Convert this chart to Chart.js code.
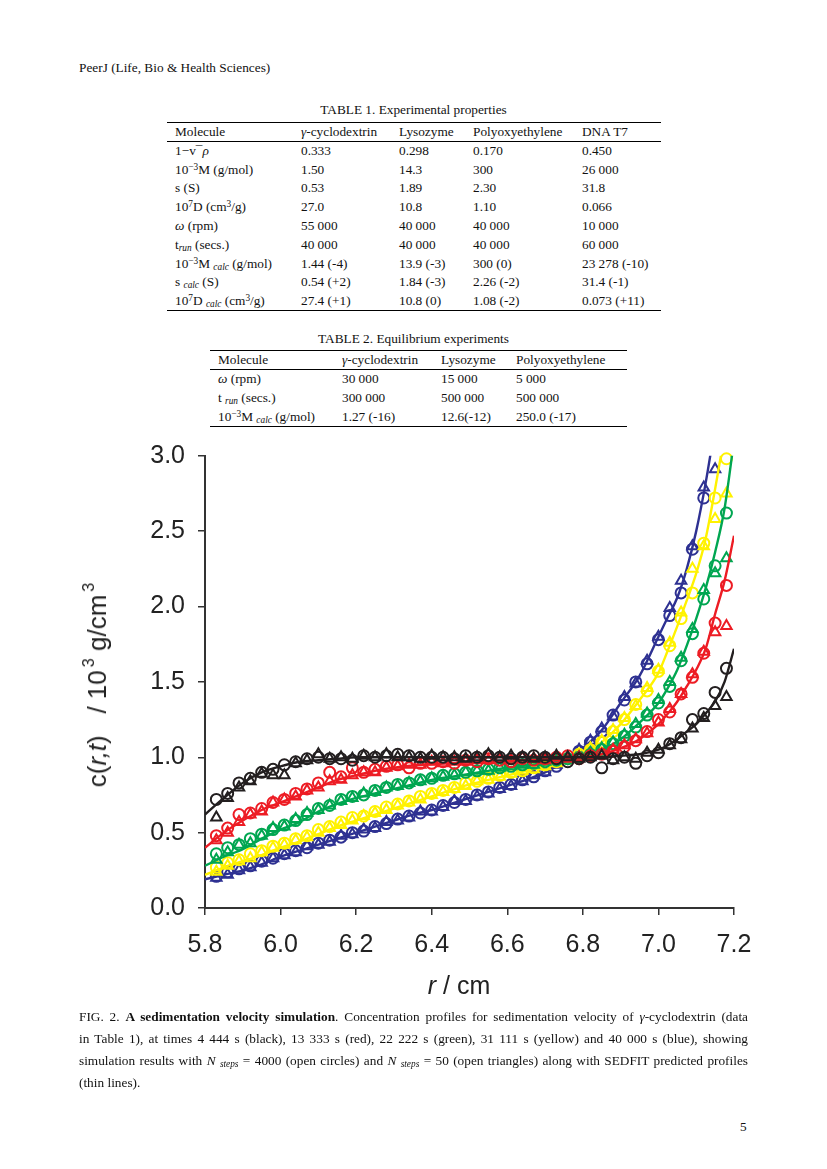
<!DOCTYPE html>
<html>
<head>
<meta charset="utf-8">
<script src="https://cdn.jsdelivr.net/npm/chart.js@4.4.1/dist/chart.umd.min.js"></script>
<style>
  body { margin: 0; background: #fff; }
  #page { position: relative; width: 827px; height: 1169px; overflow: hidden;
          font-family: 'Liberation Serif', 'Times New Roman', serif; color: #111; font-size: 13.3px; }
  .abs { position: absolute; white-space: nowrap; line-height: 16px; }
  table { position: absolute; border-collapse: collapse; font-size: 13.3px; }
  td { padding: 0; white-space: nowrap; vertical-align: middle; line-height: 14px; }
  td:first-child { padding-left: 8px; }
  sup { font-size: 0.7em; line-height: 0; vertical-align: 0.45em; }
  sub { font-size: 0.7em; line-height: 0; vertical-align: -0.2em; }
  .top { border-top: 1.2px solid #000; }
  .mid { border-bottom: 0.8px solid #000; }
  .bot { border-bottom: 1.2px solid #000; }
  .cap { position: absolute; left: 79px; width: 669px; line-height: 22px; white-space: nowrap;
         text-align: justify; text-align-last: justify; }
  .axt { position: absolute; font-family: 'Liberation Sans', Arial, sans-serif; font-size: 25px;
         color: #222; white-space: nowrap; line-height: 30px; }
  .axt sup { font-size: 0.62em; vertical-align: 0.75em; margin-left: 3px; }
  #chartBox { position: absolute; left: 0; top: 429px; width: 827px; height: 581px; }
</style>
</head>
<body>
<div id="page">
  <div class="abs" style="left:79px;top:60px;">PeerJ (Life, Bio &amp; Health Sciences)</div>

  <div class="abs" style="left:0;width:827px;text-align:center;top:102px;">TABLE 1. Experimental properties</div>
  <table style="left:167px;top:122px;width:494px;">
    <colgroup><col style="width:134px"><col style="width:98px"><col style="width:74px"><col style="width:109px"><col style="width:79px"></colgroup>
    <tr class="top mid" style="height:19px"><td>Molecule</td><td><i>γ</i>-cyclodextrin</td><td>Lysozyme</td><td>Polyoxyethylene</td><td>DNA T7</td></tr>
    <tr style="height:18.8px"><td>1−v¯<i>ρ</i></td><td>0.333</td><td>0.298</td><td>0.170</td><td>0.450</td></tr>
    <tr style="height:18.8px"><td>10<sup>−3</sup>M (g/mol)</td><td>1.50</td><td>14.3</td><td>300</td><td>26 000</td></tr>
    <tr style="height:18.8px"><td>s (S)</td><td>0.53</td><td>1.89</td><td>2.30</td><td>31.8</td></tr>
    <tr style="height:18.8px"><td>10<sup>7</sup>D (cm<sup>3</sup>/g)</td><td>27.0</td><td>10.8</td><td>1.10</td><td>0.066</td></tr>
    <tr style="height:18.8px"><td><i>ω</i> (rpm)</td><td>55 000</td><td>40 000</td><td>40 000</td><td>10 000</td></tr>
    <tr style="height:18.8px"><td>t<sub><i>run</i></sub> (secs.)</td><td>40 000</td><td>40 000</td><td>40 000</td><td>60 000</td></tr>
    <tr style="height:18.8px"><td>10<sup>−3</sup>M <sub><i>calc</i></sub> (g/mol)</td><td>1.44 (-4)</td><td>13.9 (-3)</td><td>300 (0)</td><td>23 278 (-10)</td></tr>
    <tr style="height:18.8px"><td>s <sub><i>calc</i></sub> (S)</td><td>0.54 (+2)</td><td>1.84 (-3)</td><td>2.26 (-2)</td><td>31.4 (-1)</td></tr>
    <tr class="bot" style="height:18.8px"><td>10<sup>7</sup>D <sub><i>calc</i></sub> (cm<sup>3</sup>/g)</td><td>27.4 (+1)</td><td>10.8 (0)</td><td>1.08 (-2)</td><td>0.073 (+11)</td></tr>
  </table>

  <div class="abs" style="left:0;width:827px;text-align:center;top:331px;">TABLE 2. Equilibrium experiments</div>
  <table style="left:210px;top:350px;width:417px;">
    <colgroup><col style="width:132px"><col style="width:99px"><col style="width:75px"><col style="width:111px"></colgroup>
    <tr class="top mid" style="height:19px"><td>Molecule</td><td><i>γ</i>-cyclodextrin</td><td>Lysozyme</td><td>Polyoxyethylene</td></tr>
    <tr style="height:19px"><td><i>ω</i> (rpm)</td><td>30 000</td><td>15 000</td><td>5 000</td></tr>
    <tr style="height:19px"><td>t <sub><i>run</i></sub> (secs.)</td><td>300 000</td><td>500 000</td><td>500 000</td></tr>
    <tr class="bot" style="height:19px"><td>10<sup>−3</sup>M <sub><i>calc</i></sub> (g/mol)</td><td>1.27 (-16)</td><td>12.6(-12)</td><td>250.0 (-17)</td></tr>
  </table>

  <div id="chartBox"><canvas id="chart" width="827" height="581"></canvas></div>
  <div class="axt" style="left:97px;top:685px;font-size:26px;transform:translate(-50%,-50%) rotate(-90deg);">c(<i>r,t</i>)&nbsp;&nbsp;&nbsp;/ 10<sup>3</sup> g/cm<sup>3</sup></div>
  <div class="axt" style="left:459px;top:970px;transform:translateX(-50%);"><i>r</i> / cm</div>

  <div class="cap" style="top:1006px;">FIG. 2. <b>A sedimentation velocity simulation</b>. Concentration profiles for sedimentation velocity of <i>γ</i>-cyclodextrin (data</div>
  <div class="cap" style="top:1028px;">in Table 1), at times 4 444 s (black), 13 333 s (red), 22 222 s (green), 31 111 s (yellow) and 40 000 s (blue), showing</div>
  <div class="cap" style="top:1050px;">simulation results with <i>N</i> <sub><i>steps</i></sub> = 4000 (open circles) and <i>N</i> <sub><i>steps</i></sub> = 50 (open triangles) along with SEDFIT predicted profiles</div>
  <div class="cap" style="top:1072px;text-align-last:left;">(thin lines).</div>

  <div class="abs" style="left:740px;top:1119px;">5</div>
</div>

<script>
// axis ticks
const xTicks = [5.8, 6.0, 6.2, 6.4, 6.6, 6.8, 7.0, 7.2];
const yTicks = [0.0, 0.5, 1.0, 1.5, 2.0, 2.5, 3.0];

// SEDFIT profiles (thin lines), r in cm
const rLine = [5.80, 5.85, 5.90, 5.95, 6.00, 6.05, 6.10, 6.15, 6.20, 6.25, 6.30, 6.35, 6.40, 6.45, 6.50, 6.55, 6.60,
               6.65, 6.70, 6.75, 6.80, 6.85, 6.90, 6.95, 7.00, 7.025, 7.05, 7.075, 7.10, 7.125, 7.15, 7.175, 7.20];
const lineBlack  = [0.62, 0.73, 0.83, 0.90, 0.94, 0.97, 0.98, 0.99, 1.00, 1.00, 1.00, 1.00, 1.00, 1.00, 1.00, 1.00, 1.00,
                    1.00, 1.00, 1.00, 1.00, 1.00, 1.01, 1.02, 1.05, 1.08, 1.12, 1.17, 1.22, 1.29, 1.37, 1.50, 1.72];
const lineRed    = [0.40, 0.50, 0.58, 0.65, 0.70, 0.75, 0.80, 0.85, 0.88, 0.91, 0.93, 0.945, 0.955, 0.96, 0.965, 0.97, 0.975,
                    0.98, 0.985, 0.99, 1.00, 1.02, 1.06, 1.12, 1.22, 1.29, 1.37, 1.47, 1.58, 1.72, 1.95, 2.17, 2.47];
const lineGreen  = [0.28, 0.34, 0.39, 0.46, 0.52, 0.57, 0.64, 0.69, 0.73, 0.76, 0.79, 0.82, 0.85, 0.87, 0.89, 0.91, 0.93,
                    0.945, 0.96, 0.98, 1.00, 1.05, 1.12, 1.23, 1.36, 1.46, 1.58, 1.74, 1.92, 2.12, 2.36, 2.65, 3.10];
const lineYellow = [0.22, 0.27, 0.31, 0.35, 0.40, 0.44, 0.49, 0.54, 0.58, 0.62, 0.66, 0.70, 0.74, 0.78, 0.82, 0.85, 0.88,
                    0.91, 0.94, 0.97, 1.01, 1.10, 1.22, 1.38, 1.56, 1.71, 1.87, 2.04, 2.22, 2.45, 2.78, 3.15, 3.60];
const lineBlue   = [0.19, 0.22, 0.25, 0.29, 0.34, 0.38, 0.42, 0.46, 0.50, 0.54, 0.58, 0.62, 0.65, 0.69, 0.73, 0.77, 0.81,
                    0.85, 0.90, 0.97, 1.06, 1.18, 1.36, 1.54, 1.80, 1.93, 2.06, 2.25, 2.50, 2.82, 3.20, 3.60, 4.00];

// simulation points (circles: N steps = 4000, triangles: N steps = 50)
const rMarks = [5.83, 5.86, 5.89, 5.92, 5.95, 5.98, 6.01, 6.04, 6.07, 6.10, 6.13, 6.16, 6.19, 6.22, 6.25, 6.28,
                6.31, 6.34, 6.37, 6.40, 6.43, 6.46, 6.49, 6.52, 6.55, 6.58, 6.61, 6.64, 6.67, 6.70, 6.73, 6.76,
                6.79, 6.82, 6.85, 6.88, 6.91, 6.94, 6.97, 7.00, 7.03, 7.06, 7.09, 7.12, 7.15, 7.18];
const circBlack = [0.72,0.76,0.83,0.86,0.90,0.92,0.95,0.97,0.99,1.00, 0.99,0.99,0.98,1.01,1.00,1.01,1.02,1.01,1.00,1.00,
                   1.00,0.99,1.01,1.00,1.01,1.00,0.99,1.00,1.01,1.00, 0.99,0.97,0.99,1.00,0.93,0.99,1.00,0.96,1.01,1.03,
                   1.09,1.13,1.25,1.29,1.43,1.59];
const triBlack  = [0.60,0.73,0.80,0.84,0.89,0.88,0.88,0.96,0.98,1.02, 0.99,1.00,0.99,1.01,1.00,1.02,1.00,1.00,0.99,1.01,
                   1.00,1.00,0.99,1.00,1.02,1.00,1.01,1.00,0.99,1.00, 1.01,1.00,0.99,1.00,1.01,0.98,1.00,0.99,1.03,1.05,
                   1.08,1.12,1.19,1.26,1.34,1.40];
const circRed   = [0.48,0.53,0.62,0.63,0.66,0.70,0.72,0.76,0.79,0.83, 0.90,0.87,0.93,0.90,0.92,0.94,0.95,0.93,0.96,0.96,
                   0.97,0.96,0.98,0.97,0.99,0.98,0.97,0.99,0.98,0.99, 1.00,1.01,0.99,1.01,1.02,1.04,1.07,1.11,1.17,1.25,
                   1.30,1.42,1.53,1.69,1.89,2.14];
const triRed    = [0.45,0.50,0.57,0.62,0.64,0.70,0.72,0.74,0.78,0.80, 0.84,0.85,0.88,0.90,0.90,0.93,0.94,0.95,0.95,0.97,
                   0.96,0.97,0.97,0.98,0.98,0.99,0.98,1.00,0.99,0.98, 1.00,0.99,1.00,1.01,1.02,1.05,1.08,1.12,1.16,1.23,
                   1.32,1.42,1.55,1.70,1.83,1.87];
const circGreen = [0.36,0.40,0.42,0.46,0.49,0.52,0.55,0.58,0.62,0.66, 0.68,0.72,0.74,0.75,0.78,0.80,0.82,0.83,0.85,0.86,
                   0.88,0.89,0.90,0.91,0.92,0.93,0.94,0.95,0.96,0.97, 0.98,0.99,1.00,1.02,1.05,1.09,1.14,1.20,1.28,1.36,
                   1.47,1.64,1.82,2.05,2.27,2.62];
const triGreen  = [0.32,0.37,0.42,0.43,0.48,0.53,0.54,0.59,0.63,0.65, 0.68,0.71,0.73,0.76,0.77,0.80,0.81,0.83,0.84,0.86,
                   0.87,0.88,0.90,0.91,0.91,0.93,0.94,0.95,0.95,0.97, 0.98,0.99,1.00,1.03,1.06,1.10,1.15,1.22,1.29,1.38,
                   1.50,1.66,1.85,2.11,2.22,2.32];
const circYellow = [0.27,0.30,0.32,0.36,0.38,0.41,0.43,0.46,0.48,0.52, 0.54,0.57,0.60,0.61,0.64,0.67,0.69,0.71,0.74,0.76,
                    0.78,0.80,0.83,0.84,0.86,0.88,0.90,0.91,0.93,0.95, 0.97,0.99,1.02,1.05,1.10,1.17,1.25,1.35,1.44,1.57,
                    1.74,1.92,2.09,2.42,2.72,2.98];
const triYellow  = [0.24,0.28,0.31,0.33,0.37,0.40,0.42,0.45,0.47,0.50, 0.53,0.55,0.58,0.61,0.63,0.65,0.68,0.70,0.72,0.75,
                    0.77,0.79,0.81,0.84,0.85,0.87,0.89,0.91,0.92,0.94, 0.96,0.99,1.02,1.06,1.11,1.18,1.26,1.34,1.46,1.58,
                    1.76,1.96,2.25,2.40,2.58,2.75];
const circBlue  = [0.21,0.24,0.26,0.28,0.31,0.33,0.36,0.38,0.40,0.43, 0.45,0.47,0.50,0.51,0.54,0.56,0.59,0.61,0.63,0.65,
                   0.68,0.70,0.72,0.75,0.77,0.80,0.82,0.85,0.87,0.91, 0.94,0.99,1.04,1.10,1.17,1.28,1.38,1.50,1.62,1.78,
                   1.94,2.09,2.38,2.72,null,null];
const triBlue   = [0.20,0.22,0.25,0.27,0.30,0.33,0.35,0.37,0.41,0.42, 0.44,0.48,0.49,0.52,0.53,0.57,0.58,0.60,0.64,0.64,
                   0.67,0.71,0.71,0.74,0.76,0.79,0.81,0.84,0.88,0.90, 0.95,1.00,1.05,1.11,1.19,1.27,1.40,1.49,1.64,1.80,
                   1.99,2.17,2.40,2.79,2.91,null];

const series = [
  { color: '#231f20', line: lineBlack,  circ: circBlack,  tri: triBlack },
  { color: '#ed1c24', line: lineRed,    circ: circRed,    tri: triRed },
  { color: '#00a651', line: lineGreen,  circ: circGreen,  tri: triGreen },
  { color: '#fff200', line: lineYellow, circ: circYellow, tri: triYellow },
  { color: '#2e3192', line: lineBlue,   circ: circBlue,   tri: triBlue }
];

function pts(xs, ys) {
  return xs.map((x, i) => ({ x: x, y: ys[i] }));
}

const datasets = [];
series.forEach((s, k) => {
  datasets.push({
    data: pts(rLine, s.line), showLine: true, pointRadius: 0, borderColor: s.color,
    borderWidth: 2.4, cubicInterpolationMode: 'monotone', clip: 0, order: 3 * k
  });
  datasets.push({
    data: pts(rMarks, s.circ), pointStyle: 'circle', pointRadius: 5.5, pointBorderWidth: 2,
    pointBorderColor: s.color, pointBackgroundColor: 'rgba(0,0,0,0)', clip: 10, order: 3 * k + 1
  });
  datasets.push({
    data: pts(rMarks, s.tri), pointStyle: 'triangle', pointRadius: 6, pointBorderWidth: 2,
    pointBorderColor: s.color, pointBackgroundColor: 'rgba(0,0,0,0)', clip: 10, order: 3 * k + 2
  });
});

Chart.defaults.font.family = "'Liberation Sans', Arial, sans-serif";

const axisFont = { size: 25, lineHeight: 1.1 };

new Chart(document.getElementById('chart'), {
  type: 'scatter',
  data: { datasets: datasets },
  options: {
    responsive: false,
    animation: false,
    events: [],
    layout: { padding: { top: 4, right: 93, bottom: 0, left: 0 } },
    plugins: { legend: { display: false }, tooltip: { enabled: false } },
    scales: {
      x: {
        type: 'linear', min: 5.8, max: 7.2,
        afterBuildTicks: s => { s.ticks = xTicks.map(v => ({ value: v })); },
        afterFit: s => { s.height = 102; },
        ticks: { font: axisFont, color: '#222', padding: 16, maxRotation: 0, autoSkip: false,
                 callback: v => Number(v).toFixed(1) },
        grid: { drawOnChartArea: false, drawTicks: true, tickLength: 7, color: '#333', lineWidth: 1.5 },
        border: { display: true, color: '#333', width: 2 }
      },
      y: {
        type: 'linear', min: 0, max: 3,
        afterBuildTicks: s => { s.ticks = yTicks.map(v => ({ value: v })); },
        afterFit: s => { s.width = 205; },
        ticks: { font: axisFont, color: '#222', padding: 13, autoSkip: false,
                 callback: v => Number(v).toFixed(1) },
        grid: { drawOnChartArea: false, drawTicks: true, tickLength: 7, color: '#333', lineWidth: 1.5 },
        border: { display: true, color: '#333', width: 2 }
      }
    }
  }
});
</script>
</body>
</html>
